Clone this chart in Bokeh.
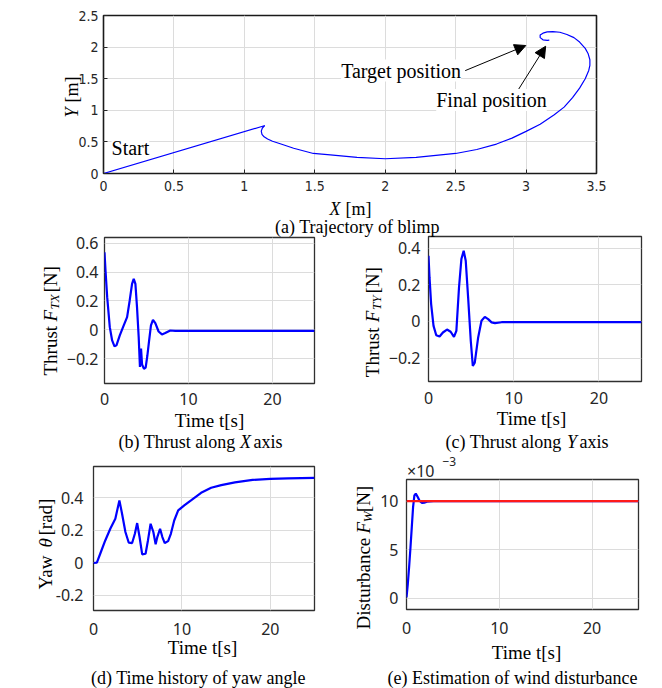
import math
from bokeh.plotting import figure
from bokeh.layouts import column, row
from bokeh.models import Range1d, FixedTicker, Label, Arrow, NormalHead
from bokeh.embed import file_html
from bokeh.resources import INLINE

# ---------------- data ----------------
# (a) trajectory of blimp [m]
traj_x = [0.0, 1.135, 1.145, 1.128, 1.12, 1.125, 1.14, 1.165, 1.2, 1.26, 1.35, 1.49, 1.61,
          1.8, 2.0, 2.22, 2.5, 2.65, 2.79, 2.9, 3.0, 3.1, 3.2, 3.27, 3.33, 3.38, 3.42,
          3.445, 3.453, 3.453, 3.44, 3.42, 3.38, 3.34, 3.29, 3.24, 3.19, 3.15, 3.12,
          3.10, 3.10, 3.12, 3.15, 3.165]
traj_y = [0.0, 0.751, 0.757, 0.72, 0.67, 0.62, 0.58, 0.545, 0.51, 0.466, 0.40, 0.317, 0.296,
          0.254, 0.233, 0.254, 0.317, 0.38, 0.466, 0.56, 0.667, 0.78, 0.93, 1.05, 1.2, 1.35,
          1.5, 1.63, 1.71, 1.80, 1.90, 1.98, 2.08, 2.15, 2.20, 2.235, 2.245, 2.24, 2.22,
          2.19, 2.15, 2.115, 2.105, 2.11]
target_arrow = [2.568, 1.628, 2.998, 2.025]   # from text to target position
final_arrow = [2.926, 1.259, 3.139, 2.013]    # from text to final position

# (b) thrust along X [N]
fx_t = [0, 0.12, 0.32, 0.63, 0.91, 1.19, 1.42, 1.82, 2.29, 2.69, 3.0, 3.28, 3.48, 3.68,
        3.87, 4.07, 4.22, 4.35, 4.47, 4.7, 4.9, 5.1, 5.3, 5.53, 5.77, 6.05, 6.44, 6.84,
        7.23, 7.83, 8.42, 25]
fx = [0.537, 0.41, 0.226, 0.018, -0.074, -0.115, -0.108, -0.039, 0.03, 0.088, 0.203, 0.318,
      0.353, 0.318, 0.157, -0.05, -0.258, -0.13, -0.24, -0.27, -0.262, -0.18, -0.08, 0.03,
      0.069, 0.046, -0.012, -0.032, -0.023, -0.005, -0.007, -0.007]

# (c) thrust along Y [N]
fy_t = [0, 0.12, 0.31, 0.59, 0.91, 1.3, 1.69, 2.17, 2.6, 2.99, 3.27, 3.58, 3.86, 4.13, 4.37,
        4.65, 4.96, 5.2, 5.43, 5.83, 6.22, 6.61, 7.0, 7.4, 7.8, 8.58, 25]
fy = [0.358, 0.24, 0.095, -0.024, -0.075, -0.082, -0.06, -0.044, -0.056, -0.084, -0.051,
      0.185, 0.34, 0.385, 0.331, 0.131, -0.105, -0.242, -0.224, -0.087, 0.004, 0.025, 0.013,
      -0.005, -0.009, -0.004, -0.004]

# (d) yaw angle [rad]
yaw_t = [0, 0.38, 0.76, 1.33, 1.9, 2.47, 2.93, 3.23, 3.61, 3.99, 4.37, 4.68, 4.94, 5.21,
         5.51, 5.89, 6.16, 6.46, 6.77, 7.03, 7.22, 7.53, 7.79, 8.06, 8.44, 8.75, 9.13, 9.58,
         10.27, 11.03, 12.17, 13.31, 14.45, 16, 18, 20, 22, 25]
yaw = [-0.002, 0.0, 0.055, 0.137, 0.209, 0.271, 0.384, 0.302, 0.189, 0.123, 0.121, 0.178,
       0.244, 0.158, 0.051, 0.055, 0.137, 0.24, 0.189, 0.113, 0.158, 0.209, 0.158, 0.121,
       0.133, 0.178, 0.26, 0.322, 0.353, 0.384, 0.431, 0.462, 0.478, 0.495, 0.51, 0.517,
       0.52, 0.523]

# (e) wind disturbance [x10^-3 N]
dist_t = [0, 0.14, 0.28, 0.43, 0.57, 0.71, 0.85, 1.0, 1.21, 1.42, 1.67, 1.92, 2.2, 2.92, 25]
dist_est = [0.07, 1.45, 3.18, 5.25, 7.33, 9.4, 10.6, 10.78, 10.43, 10.02, 9.81, 9.85, 9.95,
            10.0, 10.0]
dist_true_t = [0, 25]
dist_true = [10.0, 10.0]

# tick values / labels
a_xticks = [0, 0.5, 1, 1.5, 2, 2.5, 3, 3.5]
a_xlabels = ["0", "0.5", "1", "1.5", "2", "2.5", "3", "3.5"]
a_yticks = [0, 0.5, 1, 1.5, 2, 2.5]
a_ylabels = ["0", "0.5", "1", "1.5", "2", "2.5"]
t_ticks = [0, 10, 20]
t_labels = ["0", "10", "20"]
b_yticks = [-0.2, 0, 0.2, 0.4, 0.6]
b_ylabels = ["\u22120.2", "0", "0.2", "0.4", "0.6"]
c_yticks = [-0.2, 0, 0.2, 0.4]
c_ylabels = ["\u22120.2", "0", "0.2", "0.4"]
d_yticks = [-0.2, 0, 0.2, 0.4]
d_ylabels = ["-0.2", "0", "0.2", "0.4"]
e_yticks = [0, 5, 10]
e_ylabels = ["0", "5", "10"]

# ---------------- styling helpers ----------------
SERIF = "Liberation Serif"
SANS = "Noto Sans"
NARROW = "'Liberation Sans Narrow', 'DejaVu Sans Condensed', 'Roboto', sans-serif"
BLUE = "#0000ff"
GRID = "#dcdcdc"


def no_align(p):
    if "frame_align" in p.properties():
        p.frame_align = False


def make_panel(w, h, fl, ft, fw, fh, xr, yr):
    p = figure(width=w, height=h, x_range=Range1d(*xr), y_range=Range1d(*yr),
               output_backend="svg", toolbar_location=None,
               min_border_left=fl, min_border_top=ft,
               min_border_right=w - fl - fw, min_border_bottom=h - ft - fh)
    p.outline_line_color = "#303030"
    p.outline_line_width = 1.3
    p.outline_line_alpha = 1.0
    p.background_fill_color = "white"
    p.border_fill_color = "white"
    no_align(p)
    return p


def style_axes(p, xt, xl, yt, yl, font, size, xstand, ystand, tick_in):
    p.xaxis.ticker = FixedTicker(ticks=xt)
    p.yaxis.ticker = FixedTicker(ticks=yt)
    p.xaxis.major_label_overrides = dict(zip(xt, xl))
    p.yaxis.major_label_overrides = dict(zip(yt, yl))
    p.xgrid.ticker = FixedTicker(ticks=xt)
    p.ygrid.ticker = FixedTicker(ticks=yt)
    for g in (p.xgrid, p.ygrid):
        g.grid_line_color = GRID
        g.grid_line_width = 1
    for ax in (p.xaxis[0], p.yaxis[0]):
        ax.axis_line_color = None
        ax.major_tick_out = 0
        ax.major_tick_in = tick_in
        ax.major_tick_line_color = "#262626"
        ax.minor_tick_in = 0
        ax.minor_tick_out = 0
        ax.major_label_text_font = font
        ax.major_label_text_font_size = size
        ax.major_label_text_color = "#262626"
    p.xaxis.major_label_standoff = xstand
    p.yaxis.major_label_standoff = ystand


def text(p, x, y, t, size, italic=False, align="left", baseline="middle", angle=0.0,
         font=SERIF, bg=None, color="black"):
    lab = Label(x=x, y=y, text=t, text_font=font, text_font_size=f"{size}px",
                text_font_style="italic" if italic else "normal", text_align=align,
                text_baseline=baseline, angle=angle, text_color=color)
    if bg:
        lab.background_fill_color = bg
    p.add_layout(lab)


UP = math.pi / 2

# ---------------- (a) trajectory ----------------
pa = make_panel(662, 230, 103, 15, 493, 158, (0, 3.5), (0, 2.5))
style_axes(pa, a_xticks, a_xlabels, a_yticks, a_ylabels, NARROW, "14px", 7, 5, 4)
pa.outline_line_color = "#1a1a1a"
pa.outline_line_width = 1.6
pa.line(traj_x, traj_y, line_color=BLUE, line_width=1.2)
for (x0, y0, x1, y1) in (target_arrow, final_arrow):
    pa.add_layout(Arrow(x_start=x0, y_start=y0, x_end=x1, y_end=y1, line_width=1,
                        line_color="black",
                        end=NormalHead(size=11, fill_color="black", line_color="black")))
text(pa, 0.057, 0.41, "Start", 20, bg="white")
text(pa, 1.687, 1.628, "Target position", 20, bg="white")
text(pa, 2.362, 1.164, "Final position", 20, bg="white")

# ---------------- (b) thrust X ----------------
pb = make_panel(330, 228, 104, 7, 210, 146, (0, 25), (-0.372, 0.639))
style_axes(pb, t_ticks, t_labels, b_yticks, b_ylabels, SANS, "16px", 9, 6, 0)
pb.line(fx_t, fx, line_color=BLUE, line_width=2.2)

# ---------------- (c) thrust Y ----------------
pc = make_panel(332, 228, 98, 6, 213, 145, (0, 25), (-0.327, 0.463))
style_axes(pc, t_ticks, t_labels, c_yticks, c_ylabels, SANS, "16px", 10, 8, 0)
pc.line(fy_t, fy, line_color=BLUE, line_width=2.2)

# ---------------- (d) yaw ----------------
pd = make_panel(330, 230, 93, 8, 221, 144, (0, 25), (-0.295, 0.593))
style_axes(pd, t_ticks, t_labels, d_yticks, d_ylabels, SANS, "16px", 12, 10, 0)
pd.line(yaw_t, yaw, line_color=BLUE, line_width=2.2)

# ---------------- (e) disturbance ----------------
pe = make_panel(332, 230, 76, 21, 232, 130, (0, 25), (-1.18, 12.24))
style_axes(pe, t_ticks, t_labels, e_yticks, e_ylabels, SANS, "16px", 12, 8, 0)
pe.line(dist_t, dist_est, line_color=BLUE, line_width=2.2)
pe.line(dist_true_t, dist_true, line_color="#ff1a1a", line_width=2.2)

# ---------------- text overlay (axis titles, captions), in page pixels ----------------
ov = figure(width=662, height=688, x_range=Range1d(0, 662), y_range=Range1d(688, 0),
            output_backend="svg", toolbar_location=None, x_axis_location=None,
            y_axis_location=None, min_border=0)
ov.outline_line_color = None
ov.background_fill_color = None
ov.border_fill_color = None
ov.xgrid.visible = False
ov.ygrid.visible = False
ov.margin = (-688, 0, 0, 0)
no_align(ov)

# (a)
text(ov, 329, 208, "X", 18, italic=True)
text(ov, 345, 208, "[m]", 18)
text(ov, 71, 117, "Y", 18, italic=True, angle=UP, baseline="alphabetic")
text(ov, 71, 102, "[m]", 18, angle=UP, baseline="alphabetic")
text(ov, 357, 226, "(a) Trajectory of blimp", 18, align="center")
# (b)
text(ov, 50, 375, "Thrust", 19, angle=UP, baseline="alphabetic")
text(ov, 50, 321, "F", 19, italic=True, angle=UP, baseline="alphabetic")
text(ov, 54, 309, "TX", 13, italic=True, angle=UP, baseline="alphabetic")
text(ov, 50, 292, "[N]", 19, angle=UP, baseline="alphabetic")
text(ov, 209, 420, "Time t[s]", 19, align="center")
text(ov, 118, 441, "(b) Thrust along", 18)
text(ov, 239.5, 441, "X", 18, italic=True)
text(ov, 253, 441, "axis", 18)
# (c)
text(ov, 372, 376.7, "Thrust", 19, angle=UP, baseline="alphabetic")
text(ov, 372, 321.7, "F", 19, italic=True, angle=UP, baseline="alphabetic")
text(ov, 376, 309.5, "TY", 13, italic=True, angle=UP, baseline="alphabetic")
text(ov, 372, 293, "[N]", 19, angle=UP, baseline="alphabetic")
text(ov, 531, 418, "Time t[s]", 19, align="center")
text(ov, 445, 441.5, "(c) Thrust along", 18)
text(ov, 566.5, 441.5, "Y", 18, italic=True)
text(ov, 579, 441.5, "axis", 18)
# (d)
text(ov, 45, 589, "Yaw", 19, angle=UP, baseline="alphabetic")
text(ov, 45, 547, "\u03b8", 19, italic=True, angle=UP, baseline="alphabetic")
text(ov, 45, 535, "[rad]", 19, angle=UP, baseline="alphabetic")
text(ov, 202, 646.7, "Time t[s]", 19, align="center")
text(ov, 198, 677, "(d) Time history of yaw angle", 18, align="center")
# (e)
text(ov, 406.5, 470, "\u00d710", 16, font=SANS, color="#262626")
text(ov, 442, 461, "\u22123", 12, font=SANS, color="#262626")
text(ov, 363, 629, "Disturbance", 19, angle=UP, baseline="alphabetic")
text(ov, 363, 533, "F", 19, italic=True, angle=UP, baseline="alphabetic")
text(ov, 367, 521.7, "W", 13, italic=True, angle=UP, baseline="alphabetic")
text(ov, 363, 511.7, "[N]", 19, angle=UP, baseline="alphabetic")
text(ov, 526, 652, "Time t[s]", 19, align="center")
text(ov, 512, 677, "(e) Estimation of wind disturbance", 18, align="center")

layout = column(row(pa), row(pb, pc), row(pd, pe), ov)
open("out.html", "w").write(file_html(layout, INLINE))
